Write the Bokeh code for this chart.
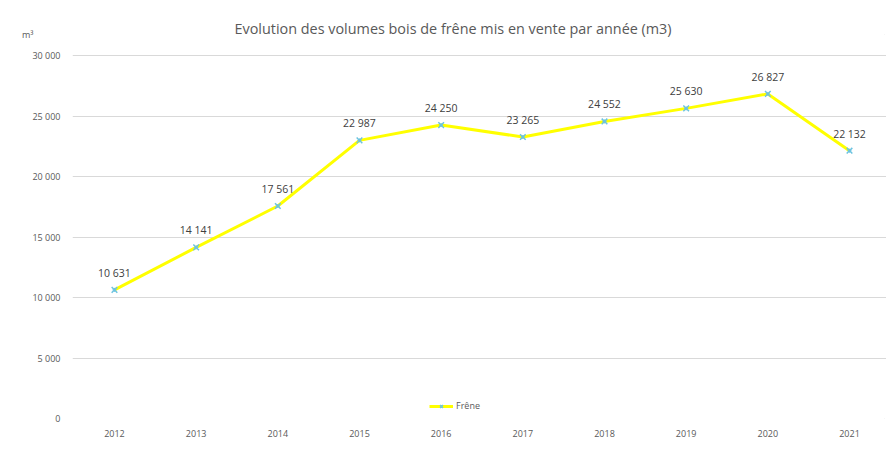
from bokeh.plotting import figure
from bokeh.models import Range1d, Title, Legend, LegendItem, FixedTicker, ColumnDataSource
from bokeh.core.properties import value
from bokeh.embed import file_html
from bokeh.resources import INLINE

years = [2012, 2013, 2014, 2015, 2016, 2017, 2018, 2019, 2020, 2021]
volumes = [10631, 14141, 17561, 22987, 24250, 23265, 24552, 25630, 26827, 22132]
y_ticks = [0, 5000, 10000, 15000, 20000, 25000, 30000]
series_name = "Frêne"
title_text = "Evolution des volumes bois de frêne mis en vente par année (m3)"
unit_text = "m³"


def fmt(v):
    return f"{v:,}".replace(",", " ")


FONT = "Open Sans"
p = figure(frame_width=814, frame_height=384, output_backend="svg", toolbar_location=None,
           x_range=Range1d(2011.486, 2021.453), y_range=Range1d(0, 31736),
           min_border_left=72, min_border_right=0, min_border_top=34, min_border_bottom=45)
p.styles = {"outline": "1px solid #d9d9d9", "outline-offset": "-2px"}
p.outline_line_color = None
p.background_fill_color = "white"
p.border_fill_color = "white"

# axes
p.xaxis.ticker = FixedTicker(ticks=years)
p.xaxis.major_label_overrides = {y: str(y) for y in years}
p.yaxis.ticker = FixedTicker(ticks=y_ticks)
p.yaxis.major_label_overrides = {t: fmt(t) for t in y_ticks}
for ax in (p.xaxis[0], p.yaxis[0]):
    ax.axis_line_color = None
    ax.major_tick_line_color = None
    ax.minor_tick_line_color = None
    ax.major_tick_out = 0
    ax.major_tick_in = 0
    ax.minor_tick_out = 0
    ax.major_label_text_font = FONT
    ax.major_label_text_font_size = "9px"
    ax.major_label_text_color = "#595959"
p.xaxis.major_label_standoff = 11
p.yaxis.major_label_standoff = 12
p.yaxis.axis_label = unit_text
p.yaxis.axis_label_orientation = "horizontal"
p.yaxis.axis_label_align = "end"
p.yaxis.axis_label_standoff = -4
p.yaxis.axis_label_text_font = FONT
p.yaxis.axis_label_text_font_size = "9px"
p.yaxis.axis_label_text_font_style = "normal"
p.yaxis.axis_label_text_color = "#595959"
p.xgrid.grid_line_color = None
p.ygrid.grid_line_color = "#d9d9d9"
p.ygrid.grid_line_width = 1

src = ColumnDataSource(dict(x=years, y=volumes, lab=[fmt(v) for v in volumes]))
ln = p.line("x", "y", source=src, line_color="#ffff00", line_width=3)
mk = p.scatter("x", "y", source=src, marker="x", size=8, line_color="#6cc3e0", line_width=1.5)
p.scatter("x", "y", source=src, marker="cross", size=4, line_color="#6cc3e0", line_width=1)
p.text("x", "y", text="lab", source=src, text_font=value(FONT), text_font_size="10.5px",
       text_color="#404040", text_align="center", text_baseline="middle", y_offset=-17)

p.add_layout(Title(text=title_text, align="left", offset=162, standoff=-6, text_font=FONT,
                   text_font_size="14.4px", text_color="#595959", text_font_style="normal"), "above")

legend = Legend(items=[LegendItem(label=series_name, renderers=[ln, mk])],
                location=(357, 6), orientation="horizontal", padding=0, margin=0,
                glyph_width=24, glyph_height=10, label_standoff=3,
                label_text_font=FONT, label_text_font_size="9px", label_text_color="#595959",
                border_line_color=None, background_fill_alpha=0)
p.add_layout(legend, "center")

open("out.html", "w").write(file_html(p, INLINE))
